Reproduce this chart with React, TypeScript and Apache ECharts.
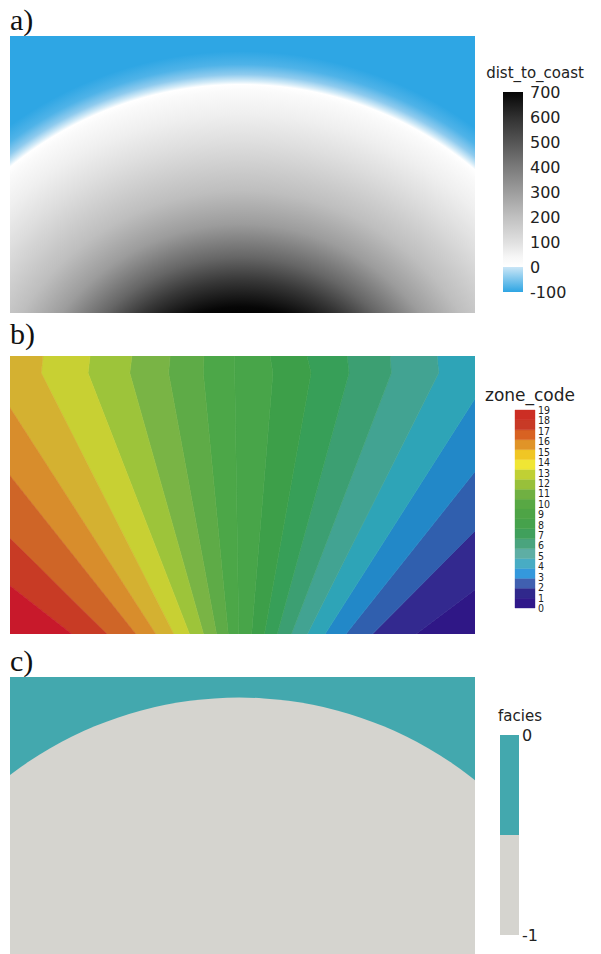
import React, { useEffect, useRef } from "react";
import * as echarts from "echarts";

// ---------- model domain (model units) ----------
const domainX = [0, 1400];
const domainY = [0, 830];

// ---------- panel a: dist_to_coast ----------
const coastCenter = [695, -405];
const coastRadius = 1095; // dist_to_coast = 0 on this circle
const distMin = -100;
const distMax = 700;
const distTickStep = 100;
// colour as it appears in the shaded map: [value, colour]
const distMapStops: [number, string][] = [
  [700, "#000000"],
  [670, "#060606"],
  [590, "#373737"],
  [520, "#666666"],
  [420, "#9c9c9c"],
  [320, "#bebebe"],
  [170, "#dfdfdf"],
  [90, "#efefef"],
  [20, "#fafafa"],
  [0, "#ffffff"],
  [-10, "#d6ecf8"],
  [-30, "#8fcbee"],
  [-60, "#4fb3e8"],
  [-100, "#2ea6e4"],
];
// colour in the legend bar
const distBarStops: [number, string][] = [
  [700, "#050505"],
  [600, "#303030"],
  [500, "#555555"],
  [400, "#7a7a7a"],
  [300, "#9d9d9d"],
  [200, "#c0c0c0"],
  [100, "#e0e0e0"],
  [40, "#f6f6f6"],
  [1, "#ffffff"],
  [-1, "#c8e5f6"],
  [-100, "#2ea5e3"],
];

// ---------- panel b: zone_code ----------
const zoneCodes = [0, 1, 2, 3, 4, 5, 6, 7, 8, 9, 10, 11, 12, 13, 14, 15, 16, 17, 18, 19];
const zoneTickLabels = ["0", "1", "2", "3", "4", "5", "6", "7", "8", "9", "10", "11", "12", "13", "14", "15", "16", "17", "18", "19"];
const fanCenter = [695, -395];
// angle (deg, from +x) of the boundary between zone k and zone k+1
const zoneBoundaryAngles = [
  36.8, 44.9, 51.3, 57.3, 63.1, 68.9, 74.5, 79.8, 85.3, 90.9,
  95.5, 100.5, 105.9, 111.4, 117.1, 123.0, 128.7, 135.6, 142.2,
];
// top layer: boundaries bend at this depth and reach the top at these x
const topLayerBase = 779;
const topLayerBoundaryIds = [4, 5, 6, 7, 8, 9, 10, 11, 12, 13, 14];
const topLayerBoundaryTopX = [1286, 1144, 1015, 894, 783, 677, 584, 482, 367, 241, 99];
const zoneMapColors = [
  "#2f1786", "#33298f", "#305fae", "#2288c8", "#2ea4b7",
  "#42a392", "#3c9f72", "#379f58", "#3d9f49", "#48a549",
  "#4ca748", "#5eab47", "#79b445", "#9dc43a", "#c8d033",
  "#d4b131", "#d88d2c", "#cf6527", "#c83b25", "#c8192b",
];
const zoneBarColors = [
  "#30188a", "#30288c", "#4060b0", "#3498dc", "#48acc4",
  "#5eaea4", "#4aa47e", "#40a05c", "#46a24c", "#4ea446",
  "#58a844", "#70b042", "#98c03a", "#c0d034", "#f0e634",
  "#f0c624", "#e09428", "#d86222", "#c83a26", "#cc2e24",
];

// ---------- panel c: facies ----------
const faciesCodes = [-1, 0];
const faciesColors = ["#d5d4cf", "#43a8ae"];
const faciesCenter = [690, -360];
const faciesRadius = 1138; // facies -1 inside this circle

// ---------- helpers ----------
const rad = (d: number) => (d * Math.PI) / 180;

function boundaryPoints(k: number): number[][] {
  const [fx, fy] = fanCenter;
  const deg = k < 0 ? -40 : k >= zoneBoundaryAngles.length ? 220 : zoneBoundaryAngles[k];
  const a = rad(deg);
  const ti = topLayerBoundaryIds.indexOf(k);
  if (ti >= 0) {
    const kx = fx + (topLayerBase - fy) / Math.tan(a);
    const tx = topLayerBoundaryTopX[ti];
    return [
      [fx, fy],
      [kx, topLayerBase],
      [tx, domainY[1]],
      [tx, domainY[1] * 3],
    ];
  }
  const L = 6000;
  return [
    [fx, fy],
    [fx + L * Math.cos(a), fy + L * Math.sin(a)],
  ];
}

const labelFont = "DejaVu Sans";
const serif = "'Liberation Serif', 'DejaVu Serif', serif";

function buildOption(): any {
  const hiddenX = (gridIndex: number, max: number) => ({
    type: "value", gridIndex, min: 0, max, show: false,
  });
  const hiddenY = (gridIndex: number, min: number, max: number) => ({
    type: "value", gridIndex, min, max, show: false,
  });
  const legendAxis = (gridIndex: number, min: number, max: number, interval: number, size: number, margin: number, family: string) => ({
    type: "value",
    gridIndex,
    min,
    max,
    interval,
    position: "right",
    axisLine: { show: false },
    axisTick: { show: false },
    splitLine: { show: false },
    axisLabel: {
      margin, fontSize: size, color: "#222", fontFamily: family,
      showMinLabel: true, showMaxLabel: true, hideOverlap: false,
    },
  });

  const panelGrid = (top: number, height: number) => ({
    left: 10, top, width: 465, height, outerBoundsMode: "none", containLabel: false,
  });

  return {
    animation: false,
    backgroundColor: "#ffffff",
    grid: [
      panelGrid(36, 277),
      panelGrid(356, 278),
      panelGrid(677, 278),
      { left: 503, top: 92, width: 20, height: 200, outerBoundsMode: "none" },
      { left: 515, top: 410, width: 20, height: 198, outerBoundsMode: "none" },
      { left: 500, top: 735, width: 19, height: 200, outerBoundsMode: "none" },
    ],
    xAxis: [
      { ...hiddenX(0, domainX[1]), min: domainX[0] },
      { ...hiddenX(1, domainX[1]), min: domainX[0] },
      { ...hiddenX(2, domainX[1]), min: domainX[0] },
      hiddenX(3, 1),
      hiddenX(4, 1),
      hiddenX(5, 1),
    ],
    yAxis: [
      hiddenY(0, domainY[0], domainY[1]),
      hiddenY(1, domainY[0], domainY[1]),
      hiddenY(2, domainY[0], domainY[1]),
      legendAxis(3, distMin, distMax, distTickStep, 16, 7, labelFont),
      {
        type: "category",
        gridIndex: 4,
        data: zoneTickLabels,
        boundaryGap: false,
        position: "right",
        axisLine: { show: false },
        axisTick: { show: false },
        splitLine: { show: false },
        axisLabel: {
          interval: 0,
          margin: 3,
          fontSize: 10.5,
          color: "#222",
          fontFamily: "'Liberation Sans Narrow', 'DejaVu Sans Condensed', sans-serif",
        },
      },
      hiddenY(4, 0, zoneCodes.length),
      legendAxis(5, faciesCodes[0], faciesCodes[faciesCodes.length - 1], 1, 16, 3, labelFont),
      hiddenY(5, 0, faciesCodes.length),
    ],
    graphic: [
      { type: "text", x: 10, y: 19, style: { text: "a)", fontSize: 30, fontFamily: serif, fill: "#111", align: "left", verticalAlign: "middle" } },
      { type: "text", x: 10, y: 333, style: { text: "b)", fontSize: 30, fontFamily: serif, fill: "#111", align: "left", verticalAlign: "middle" } },
      { type: "text", x: 10, y: 660, style: { text: "c)", fontSize: 30, fontFamily: serif, fill: "#111", align: "left", verticalAlign: "middle" } },
      { type: "text", x: 535, y: 73, style: { text: "dist_to_coast", fontSize: 15, fontFamily: labelFont, fill: "#222", align: "center", verticalAlign: "middle" } },
      { type: "text", x: 530, y: 395, style: { text: "zone_code", fontSize: 17, fontFamily: labelFont, fill: "#222", align: "center", verticalAlign: "middle" } },
      { type: "text", x: 520, y: 716, style: { text: "facies", fontSize: 15, fontFamily: labelFont, fill: "#222", align: "center", verticalAlign: "middle" } },
    ],
    series: [
      // panel a: radial distance field
      {
        type: "custom",
        xAxisIndex: 0,
        yAxisIndex: 0,
        clip: true,
        silent: true,
        data: [[coastCenter[0], coastCenter[1], coastRadius]],
        renderItem: (params: any, api: any) => {
          const cx = api.value(0), cy = api.value(1), R = api.value(2);
          const p0 = api.coord([domainX[0], domainY[1]]);
          const sz = api.size([domainX[1] - domainX[0], domainY[1] - domainY[0]]);
          const c = api.coord([cx, cy]);
          const outer = R - distMin;
          const rPx = api.size([outer, 0])[0];
          const stops = distMapStops
            .map(([v, col]) => ({ offset: Math.max(0, Math.min(1, (R - v) / outer)), color: col }))
            .sort((a, b) => a.offset - b.offset);
          stops.unshift({ offset: 0, color: distMapStops[0][1] });
          return {
            type: "group",
            children: [
              { type: "rect", shape: { x: p0[0], y: p0[1], width: sz[0], height: sz[1] }, style: { fill: distMapStops[distMapStops.length - 1][1] } },
              {
                type: "circle",
                shape: { cx: c[0], cy: c[1], r: rPx },
                style: { fill: { type: "radial", x: 0.5, y: 0.5, r: 0.5, colorStops: stops, global: false } },
              },
            ],
          };
        },
      },
      // panel b: zone wedges
      {
        type: "custom",
        xAxisIndex: 1,
        yAxisIndex: 1,
        clip: true,
        silent: true,
        data: zoneCodes.map((z) => [z, 0]),
        renderItem: (params: any, api: any) => {
          const z = api.value(0);
          const right = boundaryPoints(z - 1);
          const left = boundaryPoints(z);
          const pts = [...right, ...left.slice(1).reverse()].map((p) => api.coord(p));
          const col = zoneMapColors[z];
          return { type: "polygon", shape: { points: pts }, style: { fill: col, stroke: col, lineWidth: 0.6 } };
        },
      },
      // panel c: facies
      {
        type: "custom",
        xAxisIndex: 2,
        yAxisIndex: 2,
        clip: true,
        silent: true,
        data: [[faciesCenter[0], faciesCenter[1], faciesRadius]],
        renderItem: (params: any, api: any) => {
          const p0 = api.coord([domainX[0], domainY[1]]);
          const sz = api.size([domainX[1] - domainX[0], domainY[1] - domainY[0]]);
          const c = api.coord([api.value(0), api.value(1)]);
          const rPx = api.size([api.value(2), 0])[0];
          return {
            type: "group",
            children: [
              { type: "rect", shape: { x: p0[0], y: p0[1], width: sz[0], height: sz[1] }, style: { fill: faciesColors[1] } },
              { type: "circle", shape: { cx: c[0], cy: c[1], r: rPx }, style: { fill: faciesColors[0] } },
            ],
          };
        },
      },
      // legend a
      {
        type: "custom",
        xAxisIndex: 3,
        yAxisIndex: 3,
        silent: true,
        data: [[0, distMin, distMax]],
        renderItem: (params: any, api: any) => {
          const top = api.coord([0, api.value(2)]);
          const bot = api.coord([1, api.value(1)]);
          const span = distMax - distMin;
          const stops = distBarStops.map(([v, col]) => ({ offset: (distMax - v) / span, color: col }));
          return {
            type: "rect",
            shape: { x: top[0], y: top[1], width: bot[0] - top[0], height: bot[1] - top[1] },
            style: { fill: { type: "linear", x: 0, y: 0, x2: 0, y2: 1, colorStops: stops, global: false } },
          };
        },
      },
      // legend b
      {
        type: "custom",
        xAxisIndex: 4,
        yAxisIndex: 5,
        silent: true,
        data: zoneCodes.map((z, i) => [0, i]),
        renderItem: (params: any, api: any) => {
          const i = api.value(1);
          const p = api.coord([0, i + 1]);
          const q = api.coord([1, i]);
          const col = zoneBarColors[i];
          return { type: "rect", shape: { x: p[0], y: p[1], width: q[0] - p[0], height: q[1] - p[1] }, style: { fill: col, stroke: col, lineWidth: 0.4 } };
        },
      },
      // legend c
      {
        type: "custom",
        xAxisIndex: 5,
        yAxisIndex: 7,
        silent: true,
        data: faciesCodes.map((f, i) => [0, i]),
        renderItem: (params: any, api: any) => {
          const i = api.value(1);
          const p = api.coord([0, i + 1]);
          const q = api.coord([1, i]);
          return { type: "rect", shape: { x: p[0], y: p[1], width: q[0] - p[0], height: q[1] - p[1] }, style: { fill: faciesColors[i] } };
        },
      },
    ],
  };
}

export default function App() {
  const ref = useRef<HTMLDivElement>(null);
  useEffect(() => {
    if (!ref.current) return;
    const chart = echarts.init(ref.current, null, { renderer: "svg" });
    chart.setOption(buildOption());
    return () => chart.dispose();
  }, []);
  return (
    <div
      ref={ref}
      style={{ position: "absolute", left: 0, top: 0, width: 601, height: 954, background: "#ffffff" }}
    />
  );
}
